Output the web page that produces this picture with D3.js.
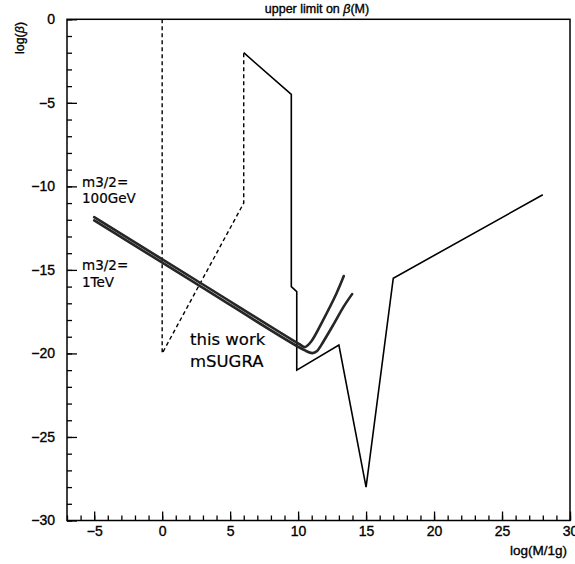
<!DOCTYPE html>
<html>
<head>
<meta charset="utf-8">
<script src="https://cdn.jsdelivr.net/npm/d3@7"></script>
<style>
  body { margin: 0; background: #fff; }
  svg text { font-family: "Liberation Sans", Arial, sans-serif; fill: #000; stroke: #000; stroke-width: 0.35px; }
  svg text.note { font-family: "DejaVu Sans", sans-serif; stroke-width: 0.2px; }
</style>
</head>
<body>
<svg id="chart" width="575" height="564"></svg>
<script>
// upper limit (solid) and the dashed bound
const limitX = [6, 9.5, 9.5, 9.9, 9.9, 13, 15, 17, 28];
const limitY = [-2, -4.5, -16, -16.3, -21, -19.5, -28, -15.5, -10.5];
const dashX = [0, 0, 6, 6];
const dashY = [0, -20, -11, -2];

// this work, mSUGRA, two gravitino masses
const work100X = [-5, 2.5, 10.1, 10.5, 10.95, 11.84, 12.82, 13.36];
const work100Y = [-11.84, -15.62, -19.45, -19.62, -19.3, -18.0, -16.41, -15.37];
const work1TX = [-5, 2.5, 10.5, 11.05, 11.4, 11.7, 12.65, 13.35, 13.97];
const work1TY = [-12.04, -15.82, -19.82, -19.98, -19.85, -19.5, -18.2, -17.2, -16.45];

const xMajor = [-5, 0, 5, 10, 15, 20, 25, 30];
const yMajor = [0, -5, -10, -15, -20, -25, -30];

const svg = d3.select("#chart");
const box = {left: 67, right: 570, top: 19.3, bottom: 520.5};

const x = d3.scaleLinear().domain([-7, 30]).range([box.left, box.right]);
const y = d3.scaleLinear().domain([-30, 0]).range([box.bottom, box.top]);

const fmt = d => (d < 0 ? "\u2212" + Math.abs(d) : "" + d);

// minor ticks
svg.append("g")
    .attr("transform", "translate(" + box.left + ",0)")
    .call(d3.axisLeft(y).tickValues(d3.range(-30, 1, 1)).tickSize(-5).tickSizeOuter(0).tickFormat(""))
    .call(g => g.select(".domain").remove())
    .selectAll("line").attr("stroke", "#000").attr("stroke-width", 1.3);

svg.append("g")
    .attr("transform", "translate(0," + box.bottom + ")")
    .call(d3.axisBottom(x).tickValues(d3.range(-7, 31, 1)).tickSize(-5).tickSizeOuter(0).tickFormat(""))
    .call(g => g.select(".domain").remove())
    .selectAll("line").attr("stroke", "#000").attr("stroke-width", 1.3);

// major ticks with labels
let yAxisG = svg.append("g")
    .attr("transform", "translate(" + box.left + ",0)")
    .call(d3.axisLeft(y).tickValues(yMajor).tickSize(-10).tickSizeOuter(0).tickPadding(12).tickFormat(fmt));
yAxisG.select(".domain").remove();
yAxisG.selectAll("line").attr("stroke", "#000").attr("stroke-width", 1.3);
yAxisG.selectAll("text").attr("font-size", 14).attr("font-family", null);

let xAxisG = svg.append("g")
    .attr("transform", "translate(0," + box.bottom + ")")
    .call(d3.axisBottom(x).tickValues(xMajor).tickSize(-9).tickSizeOuter(0).tickPadding(6).tickFormat(fmt));
xAxisG.select(".domain").remove();
xAxisG.selectAll("line").attr("stroke", "#000").attr("stroke-width", 1.3);
xAxisG.selectAll("text").attr("font-size", 14).attr("font-family", null);

// frame
svg.append("rect")
    .attr("x", box.left).attr("y", box.top)
    .attr("width", box.right - box.left).attr("height", box.bottom - box.top)
    .attr("fill", "none").attr("stroke", "#000").attr("stroke-width", 1.5);

const straight = d3.line().x(d => x(d[0])).y(d => y(d[1]));

svg.append("path")
    .attr("d", straight(d3.zip(dashX, dashY)))
    .attr("fill", "none").attr("stroke", "#000")
    .attr("stroke-width", 1.4).attr("stroke-dasharray", "4,3");

svg.append("path")
    .attr("d", straight(d3.zip(limitX, limitY)))
    .attr("fill", "none").attr("stroke", "#000")
    .attr("stroke-width", 1.6).attr("stroke-linejoin", "miter");

const smooth = d3.line().x(d => x(d[0])).y(d => y(d[1])).curve(d3.curveCatmullRom.alpha(0.5));

[[work100X, work100Y], [work1TX, work1TY]].forEach(function(s){
    svg.append("path")
        .attr("d", smooth(d3.zip(s[0], s[1])))
        .attr("fill", "none").attr("stroke", "#262626")
        .attr("stroke-width", 2.6).attr("stroke-linecap", "round");
});

// texts
svg.append("text")
    .attr("x", 317).attr("y", 13)
    .attr("text-anchor", "middle").attr("font-size", 12.5)
    .html("upper limit on <tspan font-style='italic'>\u03B2</tspan>(M)");

svg.append("text")
    .attr("transform", "translate(24,38) rotate(-90)")
    .attr("text-anchor", "middle").attr("font-size", 12.5)
    .html("log(<tspan font-style='italic'>\u03B2</tspan>)");

svg.append("text")
    .attr("x", 567).attr("y", 555)
    .attr("text-anchor", "end").attr("font-size", 13.5)
    .text("log(M/1g)");

const notes = [
    {t: "m3/2=", x: 82, y: 186.5, s: 13.5},
    {t: "100GeV", x: 82, y: 203, s: 13.5},
    {t: "m3/2=", x: 82, y: 270, s: 13.5},
    {t: "1TeV", x: 82, y: 287, s: 13.5},
    {t: "this work", x: 190, y: 345, s: 16.5},
    {t: "mSUGRA", x: 190, y: 367, s: 16.5}
];
svg.selectAll(".note").data(notes).enter().append("text")
    .attr("class", "note")
    .attr("x", d => d.x).attr("y", d => d.y)
    .attr("font-size", d => d.s)
    .text(d => d.t);
</script>
</body>
</html>
